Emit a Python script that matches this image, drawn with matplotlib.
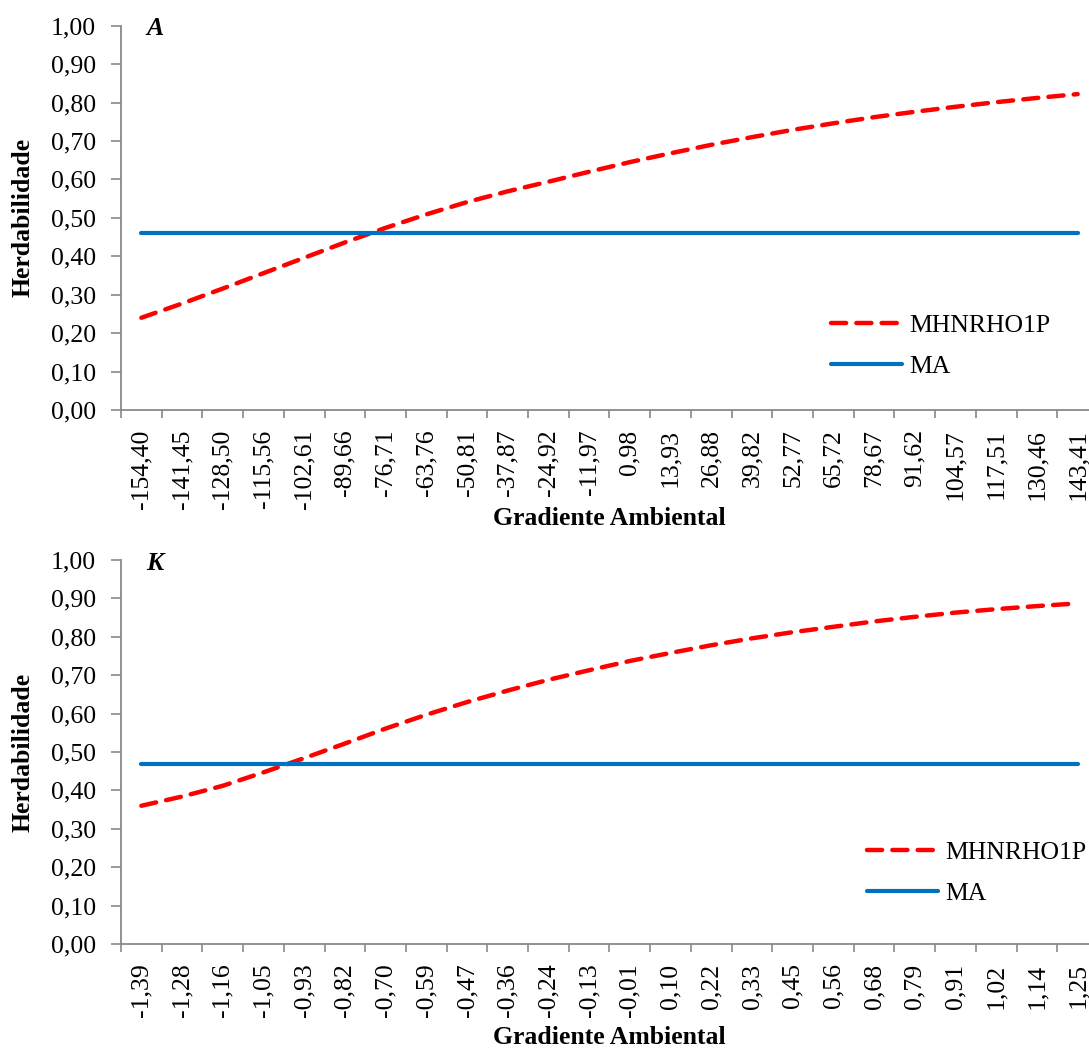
import matplotlib
matplotlib.use("Agg")
import matplotlib.pyplot as plt
import numpy as np

plt.rcParams['font.family'] = ['Liberation Serif', 'DejaVu Serif']

# Panel A
labels_a = ['-154,40', '-141,45', '-128,50', '-115,56', '-102,61', '-89,66', '-76,71', '-63,76',
            '-50,81', '-37,87', '-24,92', '-11,97', '0,98', '13,93', '26,88', '39,82',
            '52,77', '65,72', '78,67', '91,62', '104,57', '117,51', '130,46', '143,41']
mhn_a = [0.240, 0.277, 0.316, 0.356, 0.396, 0.436, 0.474, 0.509, 0.541, 0.569, 0.594, 0.620,
         0.645, 0.668, 0.690, 0.710, 0.729, 0.746, 0.762, 0.776, 0.789, 0.801, 0.812, 0.822]
ma_a = 0.46

# Panel K
labels_k = ['-1,39', '-1,28', '-1,16', '-1,05', '-0,93', '-0,82', '-0,70', '-0,59',
            '-0,47', '-0,36', '-0,24', '-0,13', '-0,01', '0,10', '0,22', '0,33',
            '0,45', '0,56', '0,68', '0,79', '0,91', '1,02', '1,14', '1,25']
mhn_k = [0.360, 0.384, 0.412, 0.447, 0.484, 0.522, 0.561, 0.597, 0.630, 0.660, 0.688, 0.713,
         0.737, 0.758, 0.778, 0.796, 0.812, 0.826, 0.840, 0.852, 0.863, 0.872, 0.880, 0.887]
ma_k = 0.47

W, H = 1089, 1050
FS = 18.5
GRAY = '#898989'
RED = '#FF0000'
BLUE = '#0070C0'

fig = plt.figure(figsize=(W / 100, H / 100), dpi=100)


def px_axes(left, top, right, bottom):
    return fig.add_axes([left / W, 1 - bottom / H, (right - left) / W, (bottom - top) / H])


def draw_panel(ax, labels, mhn, ma, tag, leg_x, leg_y):
    x = np.arange(len(labels))
    ax.plot(x, mhn, color=RED, lw=3.2, dashes=(3.4, 2.3), dash_capstyle='round',
            label='MHNRHO1P')
    ax.plot(x, [ma] * len(x), color=BLUE, lw=3, solid_capstyle='round', label='MA')

    ax.set_xlim(-0.5, len(labels) - 0.5)
    ax.set_ylim(0, 1)
    ax.set_yticks(np.arange(0, 1.01, 0.1))
    ax.set_yticklabels([f'{v:.2f}'.replace('.', ',') for v in np.arange(0, 1.01, 0.1)],
                       fontsize=FS)
    ax.set_xticks(np.arange(-0.5, len(labels), 1.0))
    ax.set_xticklabels([])
    ax.set_xticks(x, minor=True)
    ax.set_xticklabels(labels, minor=True, rotation=90, fontsize=FS)
    ax.tick_params(axis='x', which='major', length=6, width=1.2, color=GRAY, direction='out')
    ax.tick_params(axis='x', which='minor', length=0, pad=14)
    ax.tick_params(axis='y', length=7, width=1.2, color=GRAY, pad=11)

    for s in ['top', 'right']:
        ax.spines[s].set_visible(False)
    for s in ['left', 'bottom']:
        ax.spines[s].set_color(GRAY)
        ax.spines[s].set_linewidth(1.3)

    ax.set_ylabel('Herdabilidade', fontsize=FS, fontweight='bold')
    ax.yaxis.set_label_coords(-0.089, 0.5)
    ax.set_xlabel('Gradiente Ambiental', fontsize=FS, fontweight='bold')

    ax.text(0.026, 1.022, tag, transform=ax.transAxes, fontsize=FS, fontweight='bold',
            fontstyle='italic', ha='left', va='top')

    ax.legend(loc='upper left', bbox_to_anchor=(leg_x / W, 1 - leg_y / H),
              bbox_transform=fig.transFigure, frameon=False, fontsize=FS,
              handlelength=2.75, handletextpad=0.3, labelspacing=0.72,
              borderpad=0, borderaxespad=0)


ax1 = px_axes(121, 25.7, 1098, 410)
draw_panel(ax1, labels_a, mhn_a, ma_a, 'A', 831, 314)
ax1.xaxis.set_label_coords(0.5, -0.252)

ax2 = px_axes(121, 560, 1098, 944)
draw_panel(ax2, labels_k, mhn_k, ma_k, 'K', 867, 841)
ax2.xaxis.set_label_coords(0.5, -0.214)

fig.savefig('out.png', dpi=100)
